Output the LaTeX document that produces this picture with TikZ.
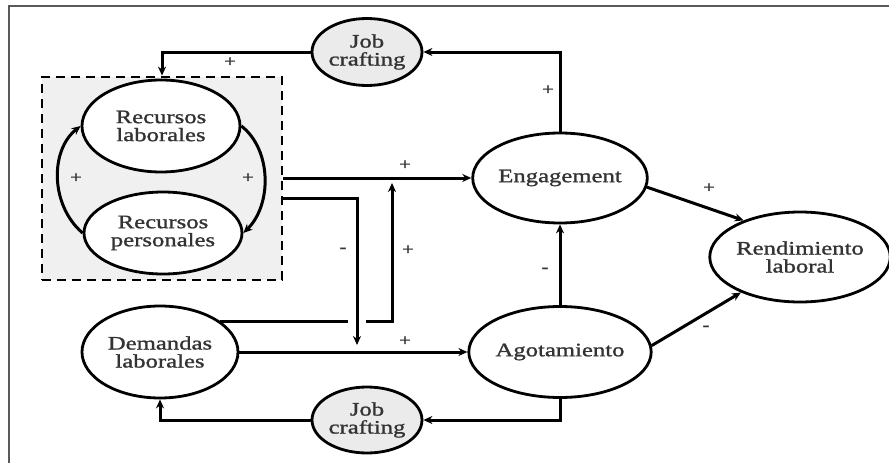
\documentclass[tikz,border=0pt]{standalone}
\usepackage{fontspec}
\setmainfont[FakeStretch=1.3,FakeBold=1.2]{Liberation Serif}
\usetikzlibrary{shapes.geometric,arrows.meta,calc}
\definecolor{boxgray}{HTML}{F0F0F0}
\definecolor{jobgray}{HTML}{EBEBEB}
\definecolor{txt}{HTML}{333333}
\begin{document}
\begin{tikzpicture}[x=1pt,y=-1pt,
  ell/.style={ellipse,draw=black,line width=2.8pt,fill=white,inner sep=0pt,
    text=txt,align=center,font=\fontsize{19}{18}\selectfont},
  jobell/.style={ell,fill=jobgray},
  conn/.style={line width=3pt,draw=black},
  arr/.style={conn,-{Stealth[length=9pt,width=8pt]}},
  sign/.style={font=\fontsize{16}{16}\selectfont,text=txt,inner sep=0pt}]
\useasboundingbox (0,0) rectangle (889,463);
% frame (cropped)
\draw[gray!70!black,line width=1.6pt] (889,6) -- (9,6) -- (9,463);
% dashed group box
\node[draw=black,dash pattern=on 9pt off 6pt,line width=2.8pt,fill=boxgray,
  minimum width=240pt,minimum height=203pt,inner sep=0pt] (box) at (162,178.5) {};
% nodes
\node[ell,minimum width=158pt,minimum height=92pt] (rl) at (161,126) {Recursos\\laborales};
\node[ell,minimum width=158pt,minimum height=82pt] (rp) at (163,233) {Recursos\\personales};
\node[ell,minimum width=156pt,minimum height=92pt] (dl) at (160,352) {Demandas\\laborales};
\node[jobell,minimum width=110pt,minimum height=67pt] (jt) at (367,52) {Job\\crafting};
\node[jobell,minimum width=110pt,minimum height=66pt] (jb) at (367,420) {Job\\crafting};
\node[ell,minimum width=154pt,minimum height=90pt] (eng) at (560,178) {Engagement};
\node[ell,minimum width=154pt,minimum height=91pt] (ag) at (560,352) {Agotamiento};
\node[ell,minimum width=155pt,minimum height=90pt] (rend) at (800,257) {Rendimiento\\laboral};
% helper coordinates
\coordinate (m1) at (357,345);
\coordinate (up) at (392,183);
% curved arrows between resources
\draw[arr] (rp.west) .. controls (50,205) and (50,150) .. (rl.west);
\draw[arr] (rl.east) .. controls (272,150) and (272,205) .. (rp.east);
% job crafting loops
\draw[arr] (eng.north) |- (jt.east);
\draw[arr] (jt.west) -| (box.north);
\draw[arr] (ag.south) |- (jb.east);
\draw[arr] (jb.west) -| (dl.south);
% resources to engagement
\draw[arr] (box.east |- eng.west) -- (eng.west);
% resources to agotamiento (-)
\draw[arr] ($(box.east)+(0,20)$) -| (m1);
% demandas to engagement (+), with a gap
\draw[conn] (dl.27) -- ([xshift=-9pt]dl.27 -| m1);
\draw[arr] ([xshift=9pt]dl.27 -| m1) -| (up);
% demandas to agotamiento
\draw[arr] (dl.east) -- (ag.west);
% to rendimiento
\draw[arr] (ag.north) -- (eng.south);
\draw[arr] (eng.-6) -- (rend.147);
\draw[arr] (ag.4) -- (rend.211);
% signs
\node[sign] at (230,62) {+};
\node[sign] at (548,90) {+};
\node[sign] at (405,165) {+};
\node[sign] at (408,250) {+};
\node[sign] at (405,341) {+};
\node[sign] at (709,188) {+};
\node[sign] at (76,178) {+};
\node[sign] at (248,178) {+};
\node[sign] at (343,250) {-};
\node[sign] at (545,270) {-};
\node[sign] at (706,328) {-};
\end{tikzpicture}
\end{document}
